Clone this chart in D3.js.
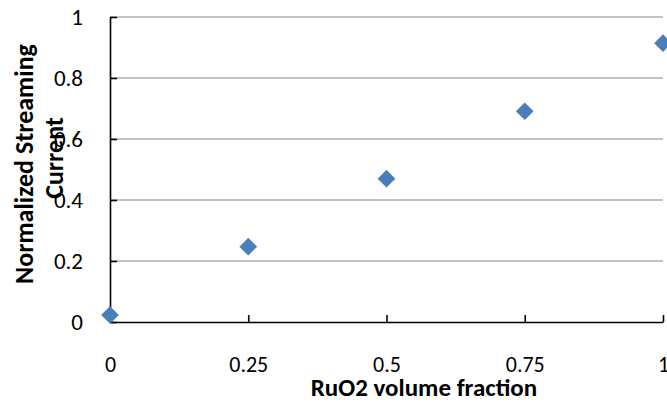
<!DOCTYPE html>
<html>
<head>
<meta charset="utf-8">
<title>streaming current</title>
<script src="https://d3js.org/d3.v7.min.js"></script>
<style>
  html, body { margin: 0; padding: 0; background: #fff; }
  svg { font-family: Carlito, Lato, sans-serif; display: block; }
</style>
</head>
<body>
<div id="chart"></div>
<script>
// data
const fractions = [0, 0.25, 0.5, 0.75, 1]
const current = [0.023, 0.247, 0.47, 0.691, 0.914]
const xTicks = [0, 0.25, 0.5, 0.75, 1]
const yTicks = [0, 0.2, 0.4, 0.6, 0.8, 1]
const xTitle = 'RuO2 volume fraction'
const yTitle = ['Normalized Streaming', 'Current']

const width = 667, height = 402

const svg = d3.select('#chart').append('svg')
  .attr('width', width)
  .attr('height', height)

const x = d3.scaleLinear().domain([0, 1]).range([110, 663])
const y = d3.scaleLinear().domain([0, 1]).range([322, 17])

const fmt = d => String(+d.toFixed(2))

// gridlines
svg.append('g')
  .selectAll('line')
  .data(yTicks.filter(d => d > 0))
  .enter()
  .append('line')
   .attr('x1', x(0))
   .attr('x2', x(1))
   .attr('y1', d => y(d))
   .attr('y2', d => y(d))
   .attr('stroke', '#868686')
   .attr('stroke-width', 1.2)

// y axis
const yAxis = svg.append('g')
  .attr('transform', `translate(${x(0)},0)`)
  .call(d3.axisLeft(y).tickValues(yTicks).tickFormat(fmt)
    .tickSizeInner(-7).tickSizeOuter(0).tickPadding(27))
yAxis.select('.domain').attr('stroke', '#000').attr('stroke-width', 1.6)
yAxis.selectAll('.tick line').attr('stroke', '#000').attr('stroke-width', 1.6)
yAxis.selectAll('.tick text').attr('font-size', 23).attr('fill', '#000')
  .attr('font-family', 'Carlito, Lato, sans-serif')

// x axis
const xAxis = svg.append('g')
  .attr('transform', `translate(0,${y(0)})`)
  .call(d3.axisBottom(x).tickValues(xTicks).tickFormat(fmt)
    .tickSizeInner(-7).tickSizeOuter(0).tickPadding(34))
xAxis.select('.domain').attr('stroke', '#000').attr('stroke-width', 1.6)
xAxis.selectAll('.tick line').attr('stroke', '#000').attr('stroke-width', 1.6)
xAxis.selectAll('.tick text').attr('font-size', 22).attr('fill', '#000')
  .attr('font-family', 'Carlito, Lato, sans-serif')

// points
svg.append('g')
  .selectAll('path')
  .data(fractions)
  .enter()
  .append('path')
   .attr('d', d3.symbol().type(d3.symbolDiamond2).size(200))
   .attr('transform', (d, i) => `translate(${x(d)},${y(current[i])})`)
   .attr('fill', '#4a7ebb')

// axis titles
svg.append('text')
  .attr('x', 424)
  .attr('y', 396)
  .attr('text-anchor', 'middle')
  .attr('font-size', 25)
  .attr('font-weight', 'bold')
  .text(xTitle)

svg.append('text')
  .attr('transform', 'translate(33,164) rotate(-90)')
  .attr('text-anchor', 'middle')
  .attr('font-size', 26)
  .attr('font-weight', 'bold')
  .text(yTitle[0])

svg.append('text')
  .attr('transform', 'translate(63,158) rotate(-90)')
  .attr('text-anchor', 'middle')
  .attr('font-size', 26)
  .attr('font-weight', 'bold')
  .text(yTitle[1])
</script>
</body>
</html>
